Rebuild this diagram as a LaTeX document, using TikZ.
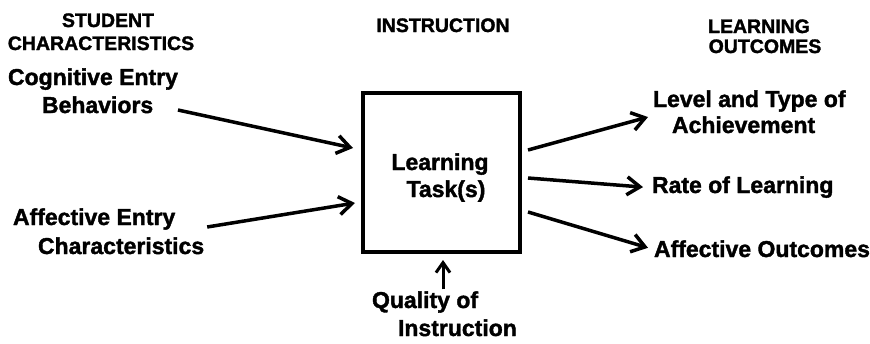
\documentclass[tikz,border=0pt]{standalone}
\usepackage{fontspec}
\setmainfont{Liberation Sans}[BoldFeatures={FakeBold=1.6}]
\usetikzlibrary{arrows.meta,calc}
\begin{document}
\begin{tikzpicture}[x=1pt,y=-1pt,
  lbl/.style={inner sep=0pt, outer sep=0pt, font=\fontsize{23}{27}\selectfont\bfseries},
  hdr/.style={inner sep=0pt, outer sep=0pt, font=\fontsize{19.5}{23}\selectfont\bfseries, anchor=base},
  arr/.style={line width=3.5pt, -{Straight Barb[length=13pt,width=18pt]}},
  arrq/.style={line width=3pt, -{Straight Barb[length=10pt,width=14pt]}},
  taskbox/.style={draw, line width=4.5pt, minimum width=157pt, minimum height=159pt, inner sep=0pt, outer sep=0pt}]
\useasboundingbox (0,0) rectangle (870,343);
% headers
\node[hdr] (h1a) at (108,27) {STUDENT};
\node[hdr] (h1b) at (101,50) {CHARACTERISTICS};
\node[hdr] (h2) at (443,32) {INSTRUCTION};
\node[hdr] (h3a) at (759,33) {LEARNING};
\node[hdr] (h3b) at (765,53) {OUTCOMES};
% left labels
\node[lbl, anchor=base west] (cogA) at (8,85) {Cognitive Entry};
\node[lbl, anchor=base west] (cogB) at (42,113) {Behaviors};
\node[lbl, anchor=base west] (affA) at (13,225) {Affective Entry};
\node[lbl, anchor=base west] (affB) at (38,254) {Characteristics};
% box
\node[taskbox] (box) at (441.5,172.5) {};
\node[lbl, anchor=base] (lt1) at (440,170) {Learning};
\node[lbl, anchor=base] (lt2) at (446,197) {Task(s)};
\node[lbl, anchor=base west] (qA) at (372,308) {Quality of};
\node[lbl, anchor=base west] (qB) at (398,336) {Instruction};
% right labels
\node[lbl, anchor=base west] (lvA) at (653,107) {Level and Type of};
\node[lbl, anchor=base west] (lvB) at (672,133) {Achievement};
\node[lbl, anchor=base west] (rate) at (652,193) {Rate of Learning};
\node[lbl, anchor=base west] (affo) at (654,257) {Affective Outcomes};
% arrows
\draw[arr] ($(cogA.east |- cogB.base)+(0,-3)$) -- ($(box.west)+(-10,-24.5)$);
\draw[arr] ($(affB.east |- affA.base)+(3,2)$) -- ($(box.west)+(-8,30.5)$);
\draw[arr] ($(box.east)+(8,-22.5)$) -- ($(lvA.west)+(-5,16)$);
\draw[arr] ($(box.east)+(8,5.5)$) -- ($(rate.west)+(-9,0)$);
\draw[arr] ($(box.east)+(8,39.5)$) -- ($(affo.west)+(-6,-1)$);
\draw[arrq] ($(box.south |- qA.north)+(1.5,-2)$) -- ($(box.south)+(1.5,8)$);
\end{tikzpicture}
\end{document}
